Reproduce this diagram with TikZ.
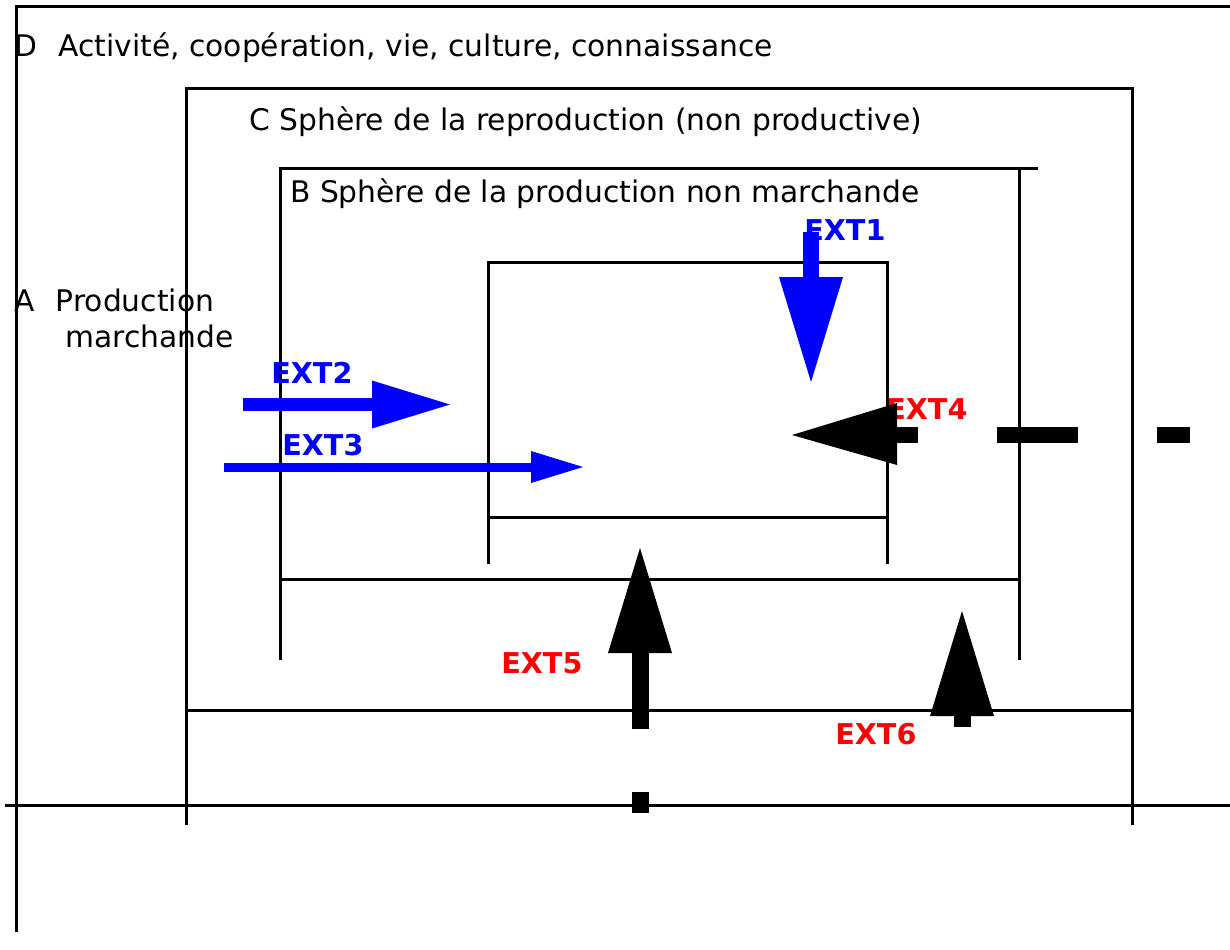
\documentclass[tikz,border=0pt]{standalone}
\usepackage{fontspec}
\setmainfont{DejaVu Sans}
\begin{document}
\begin{tikzpicture}[x=0.75pt,y=-0.75pt,
  frame/.style={line width=2.25pt,line cap=butt,line join=miter},
  lbl/.style={anchor=base west,inner sep=0pt,font=\fontsize{22.3pt}{26pt}\selectfont},
  extlbl/.style={anchor=base west,inner sep=0pt,font=\fontsize{21.5pt}{26pt}\selectfont\bfseries},
]
\useasboundingbox (0,0) rectangle (1230,949);

% ---- nested spheres ----
% D : activity
\draw[frame] (16,932) -- (16,7) -- (1230,7);
\draw[frame] (5,805) -- (1230,805);
% C : reproduction
\draw[frame] (186,825) -- (186,88) -- (1132,88) -- (1132,825);
\draw[frame] (186,710) -- (1132,710);
% B : non-market production
\draw[frame] (280,660) -- (280,168) -- (1038,168);
\draw[frame] (1019,168) -- (1019,660);
\draw[frame] (280,579) -- (1019,579);
% A : market production (inner box)
\draw[frame] (488,564) -- (488,262) -- (887,262) -- (887,564);
\draw[frame] (488,517) -- (887,517);

% ---- sphere titles ----
\node[lbl] (tD) at (14,57) {D\hspace{16pt}Activité, coopération, vie, culture, connaissance};
\node[lbl] (tC) at (249,130) {C Sphère de la reproduction (non productive)};
\node[lbl] (tB) at (290,202) {B Sphère de la production non marchande};
\node[lbl] (tA1) at (14,311) {A\hspace{16pt}Production};
\node[lbl] (tA2) at (65,347) {marchande};

% ---- externality labels ----
\node[extlbl,text=blue] (l1) at (804,240) {EXT1};
\node[extlbl,text=blue] (l2) at (271,383) {EXT2};
\node[extlbl,text=blue] (l3) at (282,455) {EXT3};
\node[extlbl,text=red]  (l4) at (886,419) {EXT4};
\node[extlbl,text=red]  (l5) at (501,673) {EXT5};
\node[extlbl,text=red]  (l6) at (835,744) {EXT6};

% ---- externality flows ----
% EXT1 (down)
\coordinate (e1s) at (811,232);
\coordinate (e1b) at (811,277);
\coordinate (e1t) at (811,382);
\draw[blue,line width=12pt] (e1s) -- (e1b);
\fill[blue] ([xshift=-32*0.75pt]e1b) -- ([xshift=32*0.75pt]e1b) -- (e1t) -- cycle;
% EXT2 (right)
\coordinate (e2s) at (243,404.5);
\coordinate (e2b) at (372,404.5);
\coordinate (e2t) at (450,404.5);
\draw[blue,line width=9.75pt] (e2s) -- (e2b);
\fill[blue] ([yshift=24*0.75pt]e2b) -- ([yshift=-24*0.75pt]e2b) -- (e2t) -- cycle;
% EXT3 (right)
\coordinate (e3s) at (224,467);
\coordinate (e3b) at (531,467);
\coordinate (e3t) at (583,467);
\draw[blue,line width=6.75pt] (e3s) -- (e3b);
\fill[blue] ([yshift=16*0.75pt]e3b) -- ([yshift=-16*0.75pt]e3b) -- (e3t) -- cycle;
% EXT4 (left, dashed tail)
\coordinate (e4s) at (1190,435);
\coordinate (e4b) at (897,435);
\coordinate (e4t) at (792,435);
\draw[black,line width=12pt,dash pattern=on 60.75pt off 59.25pt] (837,435) -- (e4s);
\fill[black] ([yshift=-30*0.75pt]e4b) -- ([yshift=32*0.75pt]e4b) -- (e4t) -- cycle;
% EXT5 (up, dashed tail)
\coordinate (e5s) at (640,813);
\coordinate (e5b) at (640,653);
\coordinate (e5t) at (640,548);
\draw[black,line width=12.75pt,dash pattern=on 15.75pt off 47.25pt on 57pt off 100pt] (e5s) -- (e5b);
\fill[black] ([xshift=-32*0.75pt]e5b) -- ([xshift=32*0.75pt]e5b) -- (e5t) -- cycle;
% EXT6 (up)
\coordinate (e6s) at (962,727);
\coordinate (e6b) at (962,716);
\coordinate (e6t) at (962,611);
\draw[black,line width=12.75pt] (e6s) -- (e6b);
\fill[black] ([xshift=-32*0.75pt]e6b) -- ([xshift=32*0.75pt]e6b) -- (e6t) -- cycle;
\end{tikzpicture}
\end{document}
